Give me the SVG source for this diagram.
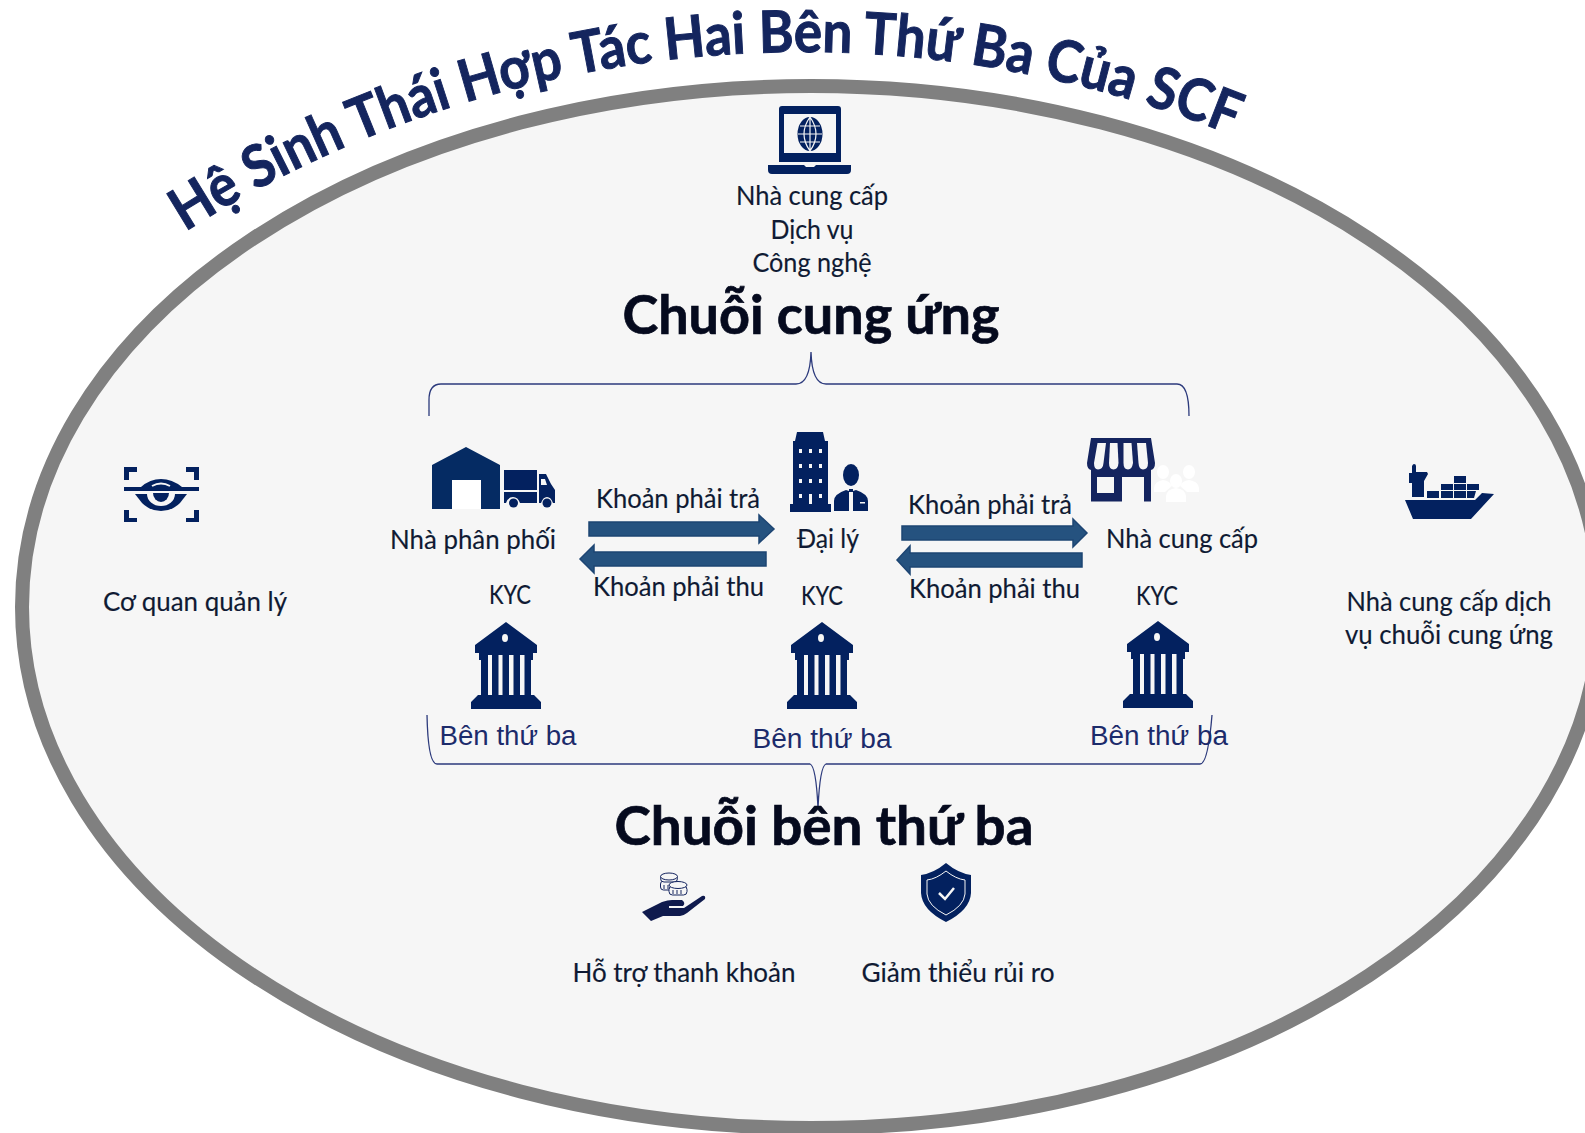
<svg xmlns="http://www.w3.org/2000/svg" xmlns:xlink="http://www.w3.org/1999/xlink" width="1585" height="1133" viewBox="0 0 1585 1133">
<style>
.l{font-family:Lato,"Noto Sans",sans-serif;font-size:26.500px;fill:#0f1a33;stroke:#0f1a33;stroke-width:.15}
.h{font-family:Lato,"Noto Sans",sans-serif;font-size:54px;font-weight:700;fill:#050a1e;stroke:#050a1e;stroke-width:.7}
.t{font-family:"Liberation Sans",Arial,sans-serif;font-size:27px;fill:#1c2b6b}
.title{font-family:Lato,"Noto Sans",sans-serif;font-size:58px;font-weight:700;fill:#14255e;stroke:#14255e;stroke-width:1}
.i{fill:#03215f}
.br{fill:none;stroke:#2c3a7c;stroke-width:1.3}
.ar{fill:#25527f;stroke:#1d4573;stroke-width:1.5}
</style>
<defs>
<path id="arc" d="M186 235A1150 1150 0 0 1 1240 136"/>
<g id="bank">
<path class="i" d="M506 622L537 645V653H533V660H531V695H534L541 702V709H471V702L478 695H481V660H479V653H475V645ZM488 655V695H492V655ZM498.500 655V695H502.500V655ZM509 655V695H513.500V655ZM520 655V695H524.500V655Z" fill-rule="evenodd"/>
<ellipse cx="505" cy="638" rx="3" ry="4" fill="#f6f6f6"/>
</g>
</defs>
<ellipse id="boundary" cx="811" cy="607" rx="789" ry="521" fill="#f6f6f6" stroke="#808080" stroke-width="14"/>
<text id="title" class="title" transform="rotate(0.3 800 100)"><textPath href="#arc" xlink:href="#arc" textLength="1092" lengthAdjust="spacingAndGlyphs">Hệ Sinh Thái Hợp Tác Hai Bên Thứ Ba Của SCF</textPath></text>

<g id="connectors">
<path class="br" d="M429 416V400Q429 384 441 384H796Q810 384 811 352Q812 384 826 384H1177Q1189 384 1189 416"/>
<path class="br" d="M427 715Q428 764 437 764H810Q816 766 818 808Q820 766 826 764H1200Q1208 764 1212 715"/>
<path class="ar" d="M589 522H759V515L774 529L759 543V536H589Z"/>
<path class="ar" d="M766 552H594V545L580 559L594 573V566H766Z"/>
<path class="ar" d="M902 526H1073V519L1087 533L1073 547V540H902Z"/>
<path class="ar" d="M1082 553H910V546L897 560L910 574V567H1082Z"/>
<text class="l" x="678" y="508" text-anchor="middle" textLength="164" lengthAdjust="spacingAndGlyphs">Khoản phải trả</text>
<text class="l" x="678.500" y="596" text-anchor="middle" textLength="171" lengthAdjust="spacingAndGlyphs">Khoản phải thu</text>
<text class="l" x="990" y="514" text-anchor="middle" textLength="164" lengthAdjust="spacingAndGlyphs">Khoản phải trả</text>
<text class="l" x="994.500" y="598" text-anchor="middle" textLength="171" lengthAdjust="spacingAndGlyphs">Khoản phải thu</text>
</g>

<g id="tech-provider">
<path class="i" d="M782 106H838Q841 106 841 109V162H779V109Q779 106 782 106ZM784 114V153H836V114Z" fill-rule="evenodd"/>
<path class="i" d="M768 165H804L806 167H814L816 165H851V170Q851 174 847 174H772Q768 174 768 170Z"/>
<ellipse class="i" cx="810" cy="134" rx="12.500" ry="17"/>
<path d="M798 134H822M800 126H820M800 142H820M810 117V151M810 117Q798 134 810 151M810 117Q822 134 810 151" fill="none" stroke="#f6f6f6" stroke-width="1.200"/>
<text class="l" x="812" y="205" text-anchor="middle" textLength="152" lengthAdjust="spacingAndGlyphs">Nhà cung cấp</text>
<text class="l" x="812" y="239" text-anchor="middle" textLength="83" lengthAdjust="spacingAndGlyphs">Dịch vụ</text>
<text class="l" x="812" y="272" text-anchor="middle" textLength="119" lengthAdjust="spacingAndGlyphs">Công nghệ</text>
</g>

<text id="supply-chain" class="h" x="811" y="334" text-anchor="middle" textLength="377" lengthAdjust="spacingAndGlyphs">Chuỗi cung ứng</text>

<g id="regulator">
<path class="i" d="M124 467H137V472H129V480H124ZM199 467H186V472H194V480H199ZM124 522H137V518H129V510H124ZM199 522H186V518H194V510H199Z"/>
<path class="i" d="M124 487H141Q150 479 161 479Q172 479 182 487H199V491H124Z"/>
<path d="M152 486Q161 481 170 486" fill="none" stroke="#f6f6f6" stroke-width="2"/>
<path class="i" d="M135 494H187L180 503Q172 511 161 511Q150 511 142 503Z"/>
<path d="M147 494A14 12 0 0 0 175 494Z" fill="#f6f6f6"/>
<path class="i" d="M153 493A8 9 0 0 0 169 493Z"/>
<text class="l" x="195" y="611" text-anchor="middle" textLength="184" lengthAdjust="spacingAndGlyphs">Cơ quan quản lý</text>
</g>

<g id="distributor">
<path fill="#052b63" d="M466 447L500 465V509H432V465ZM452 480V509H481V480Z" fill-rule="evenodd"/>
<rect x="452" y="480" width="29" height="29" fill="#fff"/>
<path class="i" d="M504 470H537V490H504ZM504 492H537V503H520Q518 497 513 497Q508 497 506 503H504ZM539 474H546L551 484L555 490V503H553Q551 497 547 497Q543 497 541 503H539ZM541 479V485H547L545 479Z" fill-rule="evenodd"/>
<circle class="i" cx="513.500" cy="503" r="4.500"/><circle class="i" cx="547" cy="503" r="4.500"/>
<text class="l" x="473" y="549" text-anchor="middle" textLength="166" lengthAdjust="spacingAndGlyphs">Nhà phân phối</text>
<text class="l" x="510" y="604" text-anchor="middle" textLength="42" lengthAdjust="spacingAndGlyphs">KYC</text>
<use href="#bank" xlink:href="#bank"/>
<text class="t" x="508" y="745" text-anchor="middle" textLength="137" lengthAdjust="spacingAndGlyphs">Bên thứ ba</text>
</g>

<g id="dealer">
<path class="i" d="M797 432H823L825 441H828V504H831V512H790V504H793V441H795Z"/>
<g fill="#f6f6f6"><rect x="799" y="449" width="3" height="4"/><rect x="809" y="449" width="3" height="4"/><rect x="819" y="449" width="3" height="4"/><rect x="799" y="464" width="3" height="4"/><rect x="809" y="464" width="3" height="4"/><rect x="819" y="464" width="3" height="4"/><rect x="799" y="479" width="3" height="4"/><rect x="809" y="479" width="3" height="4"/><rect x="819" y="479" width="3" height="4"/><rect x="799" y="494" width="3" height="4"/><rect x="809" y="494" width="3" height="10"/><rect x="819" y="494" width="3" height="4"/></g>
<ellipse class="i" cx="851" cy="475" rx="8" ry="11"/>
<path class="i" d="M846 490L849 491V511H834V501Q834 494 846 490ZM856 490Q868 494 868 501V511H853V491Z"/>
<rect x="849" y="489" width="4" height="3" fill="#03215f"/>
<rect x="860" y="502" width="5" height="1.500" fill="#f6f6f6"/>
<text class="l" x="828" y="548" text-anchor="middle" textLength="62" lengthAdjust="spacingAndGlyphs">Đại lý</text>
<text class="l" x="822" y="605" text-anchor="middle" textLength="42" lengthAdjust="spacingAndGlyphs">KYC</text>
<use href="#bank" xlink:href="#bank" x="316"/>
<text class="t" x="822" y="748" text-anchor="middle" textLength="139" lengthAdjust="spacingAndGlyphs">Bên thứ ba</text>
</g>

<g id="supplier">
<path fill="#14245f" d="M1091 438H1151L1155 463Q1155 469 1151 470V501.500H1144V477H1122V501.500H1091V470Q1087 469 1087 463ZM1097 477V493H1114V477Z" fill-rule="evenodd"/>
<g fill="#f6f6f6"><path d="M1097.500 443H1106L1103.500 463Q1103 469.500 1098 469.500Q1094 469.500 1094 463Z"/><path d="M1110 443H1117.500L1118.500 463Q1118 469.500 1113.500 469.500Q1109 469.500 1109 463Z"/><path d="M1123.500 443H1131.500L1133 463Q1132 469.500 1128 469.500Q1123.500 469.500 1123.500 463Z"/><path d="M1137 443H1146L1148 463Q1148 469.500 1143 469.500Q1139 469.500 1138.500 463Z"/></g>
<g fill="#fff"><ellipse cx="1163" cy="472" rx="6" ry="7"/><ellipse cx="1189" cy="472" rx="6" ry="7"/><ellipse cx="1176" cy="481" rx="6" ry="7"/><path d="M1154 492V488Q1155 481 1163 480Q1170 481 1172 486L1165 492ZM1199 492V488Q1198 481 1189 480Q1182 481 1180 486L1187 492Z"/><path d="M1166 502V496Q1167 489 1176 488Q1185 489 1186 496V502Z"/></g>
<text class="l" x="1182" y="548" text-anchor="middle" textLength="152" lengthAdjust="spacingAndGlyphs">Nhà cung cấp</text>
<text class="l" x="1157" y="605" text-anchor="middle" textLength="42" lengthAdjust="spacingAndGlyphs">KYC</text>
<use href="#bank" xlink:href="#bank" x="652" y="-1"/>
<text class="t" x="1159" y="745" text-anchor="middle" textLength="138" lengthAdjust="spacingAndGlyphs">Bên thứ ba</text>
</g>

<g id="logistics-provider">
<path class="i" d="M1405 500H1475L1482 493L1494 494L1471 519H1413Z"/>
<path class="i" d="M1412 497V483H1409V473H1412V466Q1413 464 1414 464Q1416 464 1416 466V472H1427L1428 474L1424 481V497Z"/>
<path class="i" d="M1427 491H1439V498H1427ZM1441 484H1453V490H1441ZM1441 491H1453V498H1441ZM1454 476H1466V483H1454ZM1454 484H1466V490H1454ZM1454 491H1466V498H1454ZM1467 484H1479V490H1467ZM1467 491H1476L1474 498H1467Z"/>
<text class="l" x="1449" y="611" text-anchor="middle" textLength="205" lengthAdjust="spacingAndGlyphs">Nhà cung cấp dịch</text>
<text class="l" x="1449" y="644" text-anchor="middle" textLength="208" lengthAdjust="spacingAndGlyphs">vụ chuỗi cung ứng</text>
</g>

<text id="third-party-chain" class="h" x="824" y="845" text-anchor="middle" textLength="419" lengthAdjust="spacingAndGlyphs">Chuỗi bên thứ ba</text>

<g id="liquidity">
<path fill="#0f1a4d" d="M642 912L662 902Q668 900 672 900H682Q686 903 683 906L669 906V908H684L702 896Q706 895 705 899L687 913Q683 916 680 916H663L651 921Z"/>
<g fill="#f6f6f6" stroke="#14245f" stroke-width="1"><rect x="660.500" y="881" width="16" height="9" rx="3"/><path d="M660.500 884V887M664 885V889M668 885V889M672 885V889" fill="none"/><rect x="660.500" y="875" width="17" height="7" rx="3.500"/><ellipse cx="669" cy="876.500" rx="8.500" ry="3.500"/><rect x="669" y="886" width="18" height="9" rx="3.500"/><path d="M673 890V894M677 890V894M681 890V894" fill="none"/><ellipse cx="678" cy="885" rx="9" ry="3.500"/></g>
<text class="l" x="684" y="982" text-anchor="middle" textLength="223" lengthAdjust="spacingAndGlyphs">Hỗ trợ thanh khoản</text>
</g>

<g id="risk">
<path class="i" d="M946 863Q958 873 971 875V893Q970 910 946 922Q922 910 921 893V875Q934 873 946 863Z"/>
<path d="M946 871Q956 879 965 880V894Q964 906 946 915Q928 906 927 894V880Q936 879 946 871Z" fill="none" stroke="#f6f6f6" stroke-width="1"/>
<path d="M939 893L945 899L954 888" fill="none" stroke="#f6f6f6" stroke-width="2.500"/>
<text class="l" x="958" y="982" text-anchor="middle" textLength="193" lengthAdjust="spacingAndGlyphs">Giảm thiểu rủi ro</text>
</g>
</svg>
